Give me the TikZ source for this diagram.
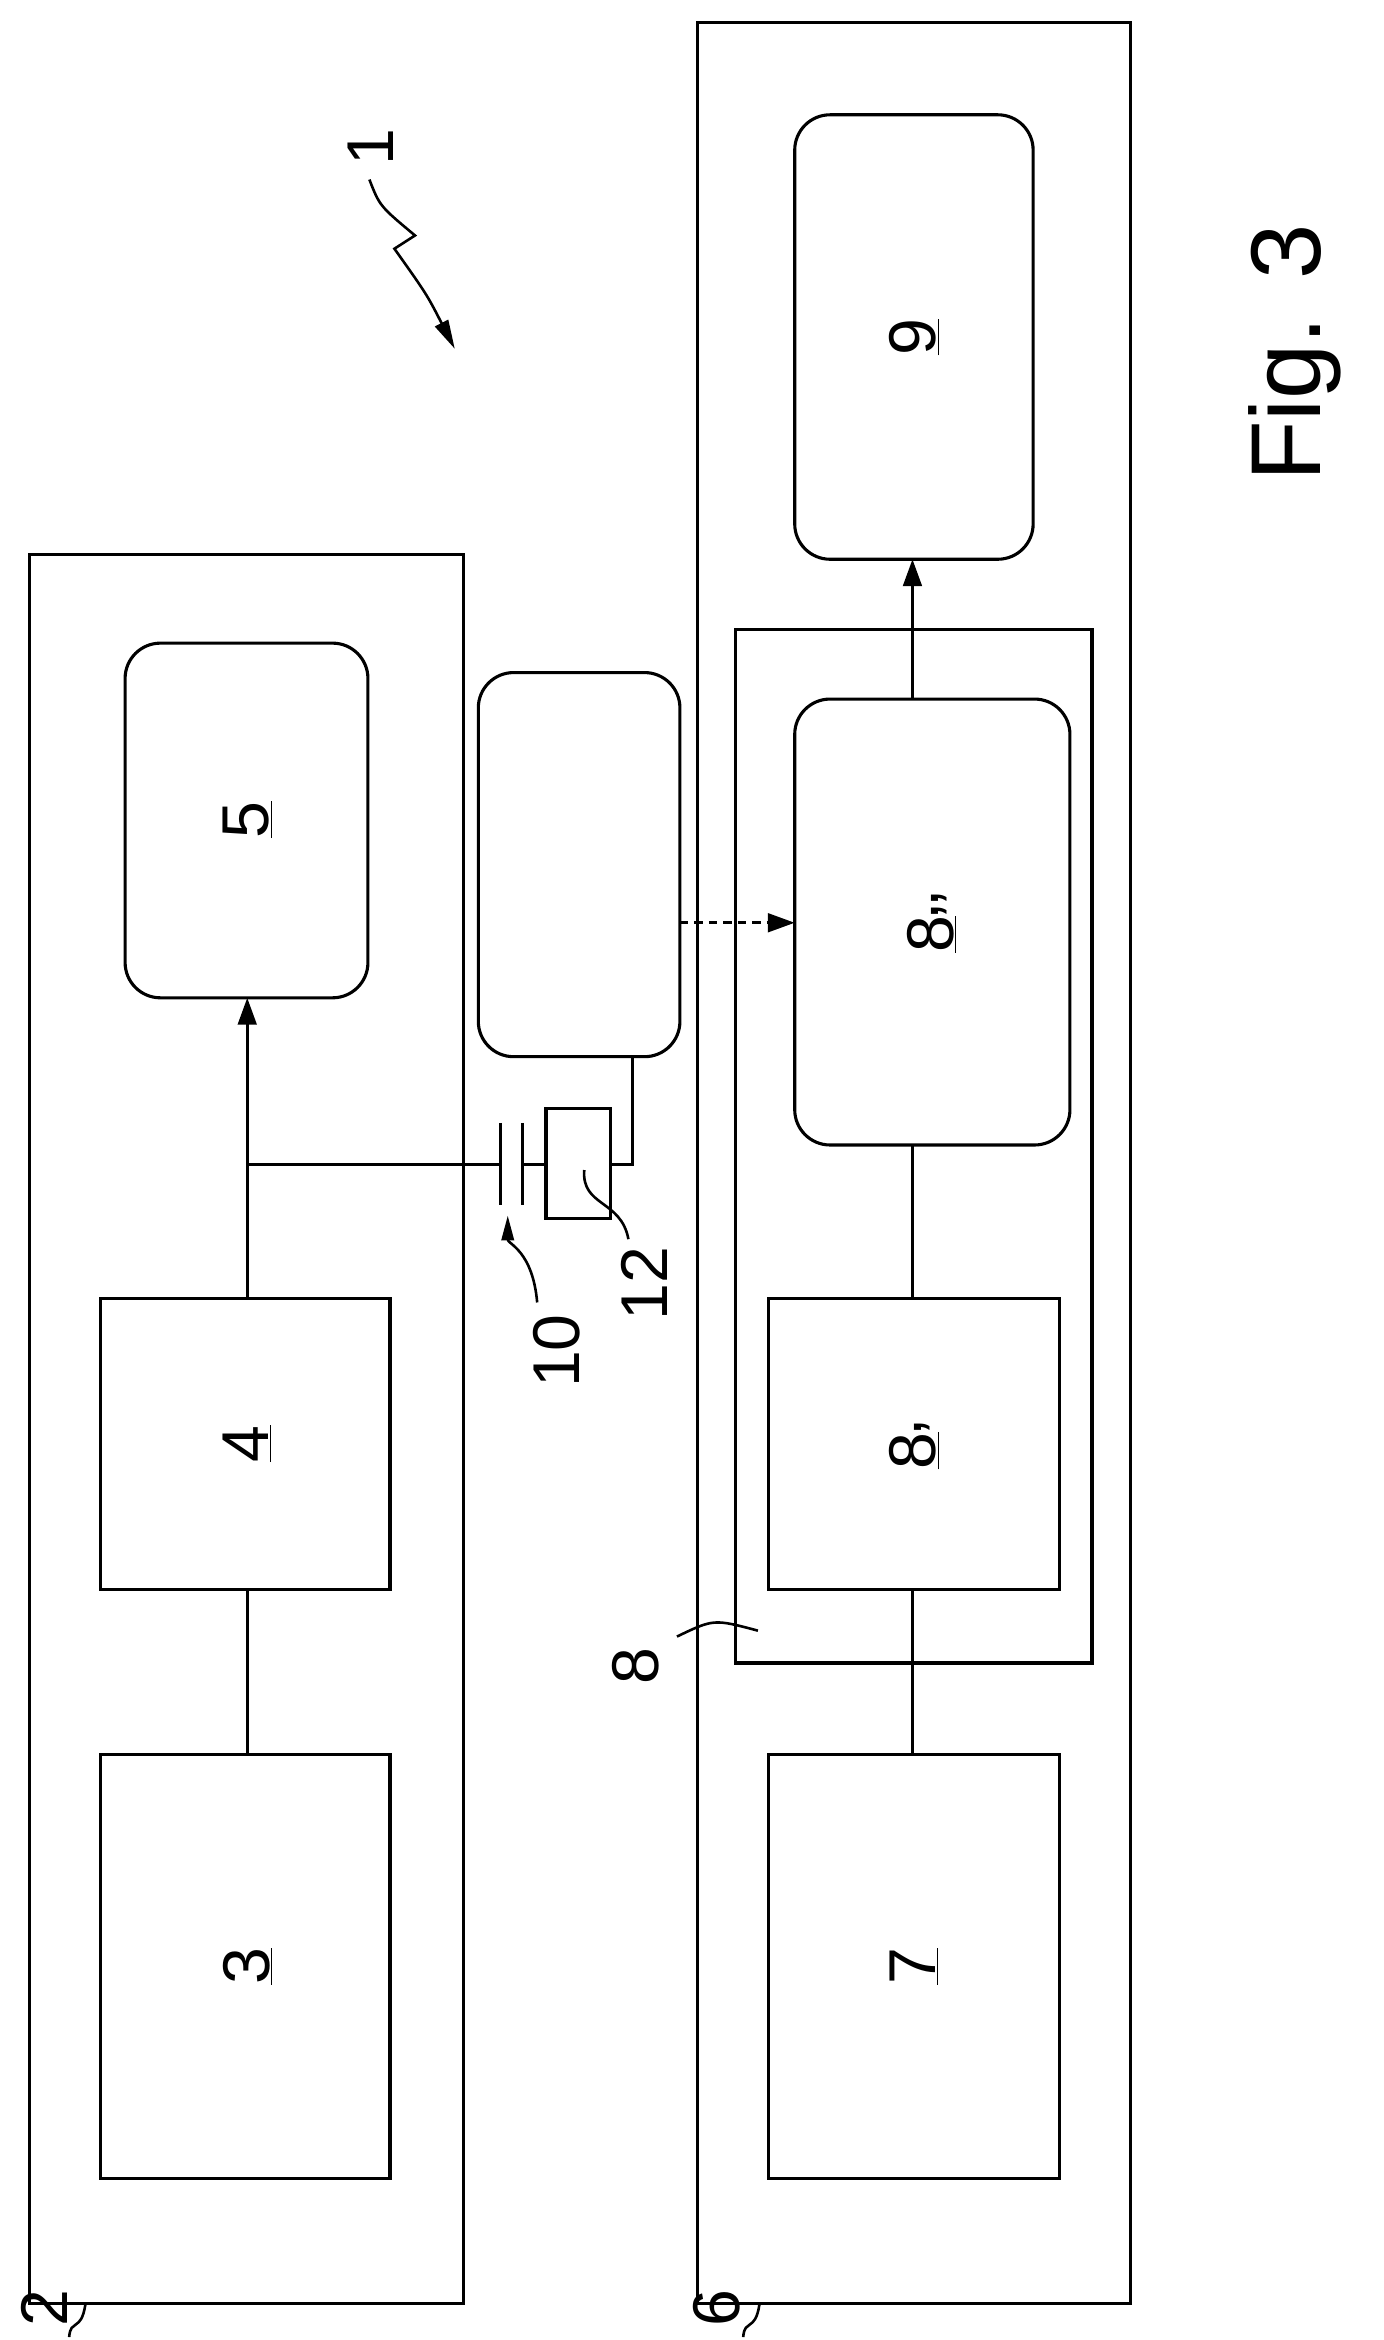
\documentclass[tikz,border=0pt]{standalone}
\usepackage{fontspec}
\setmainfont{Liberation Sans}
\usetikzlibrary{arrows.meta}
\begin{document}
\begin{tikzpicture}[x=0.05cm,y=-0.05cm,line width=3pt,
 box/.style={draw},
 rbox/.style={draw,rounded corners=1.2cm},
 lab/.style={rotate=90,font=\fontsize{64}{64}\selectfont},
 arr/.style={-{Triangle[length=26pt,width=18pt]}},
 lead/.style={line width=2.5pt}]
\useasboundingbox (0,0) rectangle (940,1590);
\draw[box] (20,377) rectangle (315,1565);
\draw[box] (474,15) rectangle (768,1565);
\draw[box] (500,428) rectangle (742,1130);
\draw[box] (68,1192) rectangle (265,1480); \node[lab] (n3) at (168,1336) {\underline{3}};
\draw[box] (68,882) rectangle (265,1080); \node[lab] (n4) at (168,981) {\underline{4}};
\draw[rbox] (85,437) rectangle (250,678); \node[lab] (n5) at (168,557) {\underline{5}};
\draw[rbox] (325,457) rectangle (462,718);
\draw[box] (371,753) rectangle (415,828);
\draw[rbox] (540,475) rectangle (727,778); \node[lab] (n8b) at (633,626) {\underline{8}\kern-4pt\raisebox{14pt}{,\kern-6pt,}};
\draw[box] (522,882) rectangle (720,1080); \node[lab] (n8a) at (621,981) {\underline{8}\kern-4pt\raisebox{14pt}{,}};
\draw[box] (522,1192) rectangle (720,1480); \node[lab] (n7) at (621,1336) {\underline{7}};
\draw[rbox] (540,78) rectangle (702,380); \node[lab] (n9) at (621,229) {\underline{9}};
% connectors
\draw (168,1192) -- (168,1080);
\draw[arr] (168,882) -- (168,678);
\draw (168,791) -- (340,791);
\draw (340,763) -- (340,819);
\draw (355,763) -- (355,819);
\draw (355,791) -- (371,791);
\draw (415,791) -- (430,791) -- (430,718);
\draw[arr,dash pattern=on 8pt off 6pt] (462,627) -- (540,627);
\draw (620,1192) -- (620,1080);
\draw (620,882) -- (620,778);
\draw[arr] (620,475) -- (620,380);
% labels
\node[lab] at (252,100) {1};
\draw[lead,-{Triangle[length=28pt,width=14pt]}] (251,122) .. controls (258,140) .. (282,160) -- (268,169) .. controls (290,200) .. (309,237);
\node[lab] at (30,1568) {2};
\draw[lead] (58,1566) .. controls (55,1585) and (48,1575) .. (47,1588);
\node[lab] at (487,1568) {6};
\draw[lead] (516,1566) .. controls (513,1585) and (506,1575) .. (505,1588);
\node[lab] at (378,918) {10};
\draw[lead,-{Triangle[length=24pt,width=12pt]}] (365,885) .. controls (362,850) and (345,845) .. (345,826);
\node[lab] at (438,872) {12};
\draw[lead] (427,842) .. controls (422,815) and (395,820) .. (397,795);
\node[lab] at (432,1132) {8};
\draw[lead] (460,1112) .. controls (485,1100) .. (515,1108);
\node[rotate=90,font=\fontsize{96}{96}\selectfont] at (880,240) {Fig. 3};
\end{tikzpicture}
\end{document}
